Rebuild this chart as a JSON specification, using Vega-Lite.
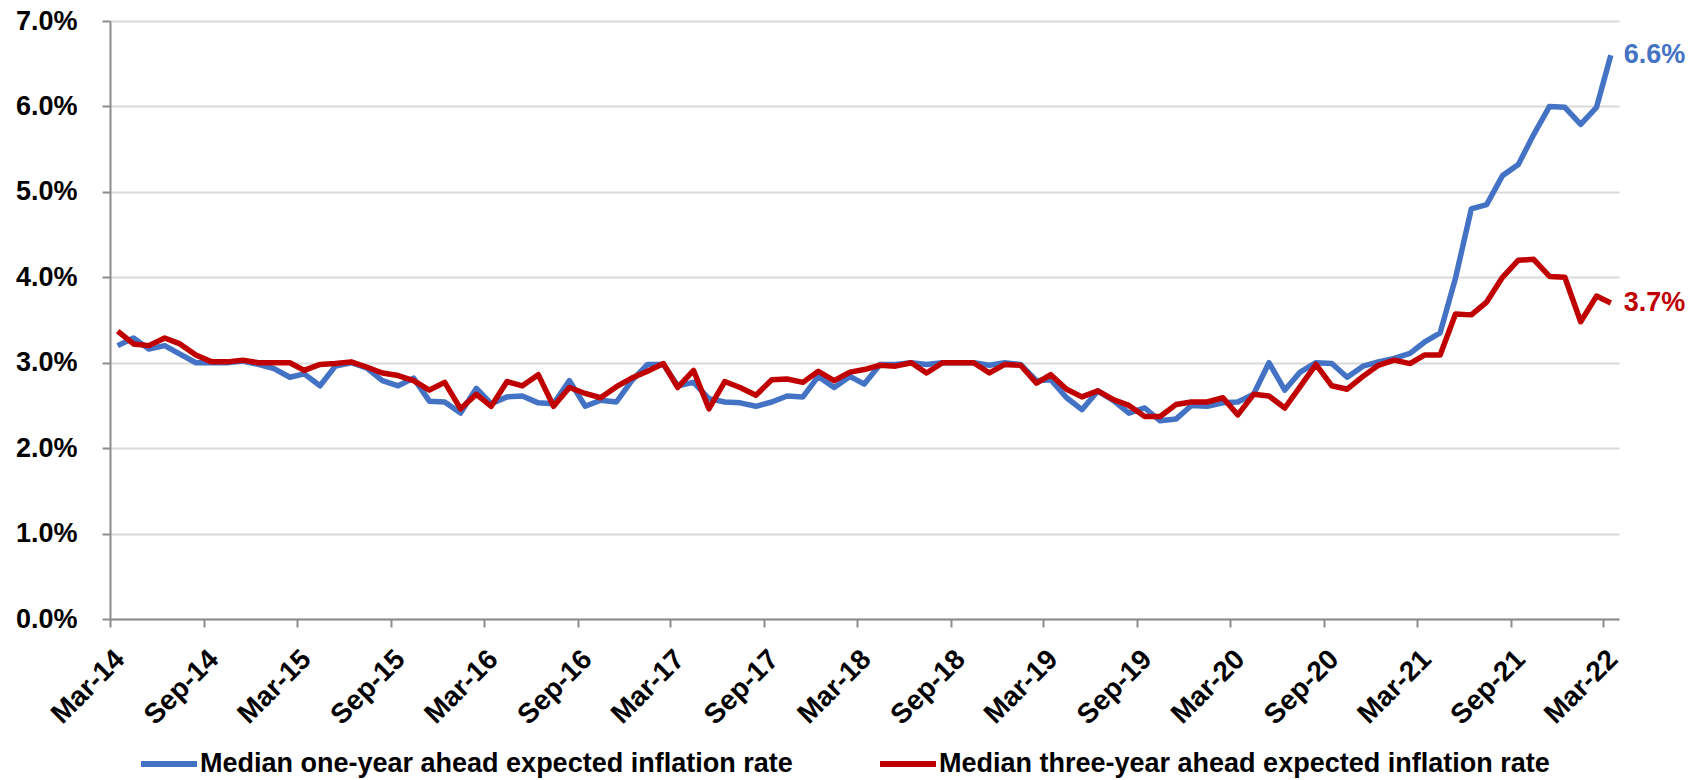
{
  "$schema": "https://vega.github.io/schema/vega-lite/v6.json",
  "width": 1509,
  "height": 598,
  "autosize": {"type": "none"},
  "padding": {"left": 110, "top": 21, "right": 85, "bottom": 161},
  "background": "white",
  "config": {
    "view": {"stroke": null},
    "font": "Liberation Sans"
  },
  "data": {
    "values": [
      {"date": "2014-03-16", "one_year": 0.0320, "three_year": 0.0337},
      {"date": "2014-04-16", "one_year": 0.0329, "three_year": 0.0322},
      {"date": "2014-05-16", "one_year": 0.0316, "three_year": 0.0320},
      {"date": "2014-06-16", "one_year": 0.0320, "three_year": 0.0329},
      {"date": "2014-07-16", "one_year": 0.0310, "three_year": 0.0322},
      {"date": "2014-08-16", "one_year": 0.0300, "three_year": 0.0309},
      {"date": "2014-09-16", "one_year": 0.0300, "three_year": 0.0301},
      {"date": "2014-10-16", "one_year": 0.0300, "three_year": 0.0301},
      {"date": "2014-11-16", "one_year": 0.0302, "three_year": 0.0303},
      {"date": "2014-12-16", "one_year": 0.0298, "three_year": 0.0300},
      {"date": "2015-01-16", "one_year": 0.0293, "three_year": 0.0300},
      {"date": "2015-02-16", "one_year": 0.0283, "three_year": 0.0300},
      {"date": "2015-03-16", "one_year": 0.0287, "three_year": 0.0291},
      {"date": "2015-04-16", "one_year": 0.0273, "three_year": 0.0298},
      {"date": "2015-05-16", "one_year": 0.0296, "three_year": 0.0299},
      {"date": "2015-06-16", "one_year": 0.0300, "three_year": 0.0301},
      {"date": "2015-07-16", "one_year": 0.0294, "three_year": 0.0295},
      {"date": "2015-08-16", "one_year": 0.0279, "three_year": 0.0288},
      {"date": "2015-09-16", "one_year": 0.0273, "three_year": 0.0285},
      {"date": "2015-10-16", "one_year": 0.0282, "three_year": 0.0279},
      {"date": "2015-11-16", "one_year": 0.0255, "three_year": 0.0268},
      {"date": "2015-12-16", "one_year": 0.0254, "three_year": 0.0277},
      {"date": "2016-01-16", "one_year": 0.0241, "three_year": 0.0246},
      {"date": "2016-02-16", "one_year": 0.0270, "three_year": 0.0263},
      {"date": "2016-03-16", "one_year": 0.0252, "three_year": 0.0249},
      {"date": "2016-04-16", "one_year": 0.0260, "three_year": 0.0278},
      {"date": "2016-05-16", "one_year": 0.0261, "three_year": 0.0273},
      {"date": "2016-06-16", "one_year": 0.0253, "three_year": 0.0286},
      {"date": "2016-07-16", "one_year": 0.0252, "three_year": 0.0249},
      {"date": "2016-08-16", "one_year": 0.0279, "three_year": 0.0271},
      {"date": "2016-09-16", "one_year": 0.0249, "three_year": 0.0264},
      {"date": "2016-10-16", "one_year": 0.0256, "three_year": 0.0259},
      {"date": "2016-11-16", "one_year": 0.0254, "three_year": 0.0272},
      {"date": "2016-12-16", "one_year": 0.0279, "three_year": 0.0282},
      {"date": "2017-01-16", "one_year": 0.0298, "three_year": 0.0290},
      {"date": "2017-02-16", "one_year": 0.0298, "three_year": 0.0299},
      {"date": "2017-03-16", "one_year": 0.0273, "three_year": 0.0271},
      {"date": "2017-04-16", "one_year": 0.0277, "three_year": 0.0291},
      {"date": "2017-05-16", "one_year": 0.0258, "three_year": 0.0246},
      {"date": "2017-06-16", "one_year": 0.0254, "three_year": 0.0278},
      {"date": "2017-07-16", "one_year": 0.0253, "three_year": 0.0271},
      {"date": "2017-08-16", "one_year": 0.0249, "three_year": 0.0262},
      {"date": "2017-09-16", "one_year": 0.0254, "three_year": 0.0280},
      {"date": "2017-10-16", "one_year": 0.0261, "three_year": 0.0281},
      {"date": "2017-11-16", "one_year": 0.0260, "three_year": 0.0277},
      {"date": "2017-12-16", "one_year": 0.0284, "three_year": 0.0290},
      {"date": "2018-01-16", "one_year": 0.0271, "three_year": 0.0279},
      {"date": "2018-02-16", "one_year": 0.0284, "three_year": 0.0289},
      {"date": "2018-03-16", "one_year": 0.0275, "three_year": 0.0292},
      {"date": "2018-04-16", "one_year": 0.0298, "three_year": 0.0297},
      {"date": "2018-05-16", "one_year": 0.0298, "three_year": 0.0296},
      {"date": "2018-06-16", "one_year": 0.0300, "three_year": 0.0300},
      {"date": "2018-07-16", "one_year": 0.0298, "three_year": 0.0288},
      {"date": "2018-08-16", "one_year": 0.0300, "three_year": 0.0300},
      {"date": "2018-09-16", "one_year": 0.0300, "three_year": 0.0300},
      {"date": "2018-10-16", "one_year": 0.0300, "three_year": 0.0300},
      {"date": "2018-11-16", "one_year": 0.0297, "three_year": 0.0288},
      {"date": "2018-12-16", "one_year": 0.0300, "three_year": 0.0298},
      {"date": "2019-01-16", "one_year": 0.0298, "three_year": 0.0297},
      {"date": "2019-02-16", "one_year": 0.0279, "three_year": 0.0276},
      {"date": "2019-03-16", "one_year": 0.0280, "three_year": 0.0286},
      {"date": "2019-04-16", "one_year": 0.0259, "three_year": 0.0269},
      {"date": "2019-05-16", "one_year": 0.0245, "three_year": 0.0260},
      {"date": "2019-06-16", "one_year": 0.0267, "three_year": 0.0267},
      {"date": "2019-07-16", "one_year": 0.0256, "three_year": 0.0257},
      {"date": "2019-08-16", "one_year": 0.0241, "three_year": 0.0250},
      {"date": "2019-09-16", "one_year": 0.0247, "three_year": 0.0237},
      {"date": "2019-10-16", "one_year": 0.0232, "three_year": 0.0237},
      {"date": "2019-11-16", "one_year": 0.0234, "three_year": 0.0251},
      {"date": "2019-12-16", "one_year": 0.0250, "three_year": 0.0254},
      {"date": "2020-01-16", "one_year": 0.0249, "three_year": 0.0254},
      {"date": "2020-02-16", "one_year": 0.0253, "three_year": 0.0259},
      {"date": "2020-03-16", "one_year": 0.0254, "three_year": 0.0239},
      {"date": "2020-04-16", "one_year": 0.0263, "three_year": 0.0263},
      {"date": "2020-05-16", "one_year": 0.0300, "three_year": 0.0261},
      {"date": "2020-06-16", "one_year": 0.0268, "three_year": 0.0247},
      {"date": "2020-07-16", "one_year": 0.0289, "three_year": 0.0272},
      {"date": "2020-08-16", "one_year": 0.0300, "three_year": 0.0298},
      {"date": "2020-09-16", "one_year": 0.0299, "three_year": 0.0273},
      {"date": "2020-10-16", "one_year": 0.0283, "three_year": 0.0269},
      {"date": "2020-11-16", "one_year": 0.0296, "three_year": 0.0284},
      {"date": "2020-12-16", "one_year": 0.0301, "three_year": 0.0297},
      {"date": "2021-01-16", "one_year": 0.0305, "three_year": 0.0303},
      {"date": "2021-02-16", "one_year": 0.0311, "three_year": 0.0299},
      {"date": "2021-03-16", "one_year": 0.0324, "three_year": 0.0309},
      {"date": "2021-04-16", "one_year": 0.0335, "three_year": 0.0309},
      {"date": "2021-05-16", "one_year": 0.0399, "three_year": 0.0357},
      {"date": "2021-06-16", "one_year": 0.0480, "three_year": 0.0356},
      {"date": "2021-07-16", "one_year": 0.0485, "three_year": 0.0371},
      {"date": "2021-08-16", "one_year": 0.0519, "three_year": 0.0400},
      {"date": "2021-09-16", "one_year": 0.0532, "three_year": 0.0420},
      {"date": "2021-10-16", "one_year": 0.0567, "three_year": 0.0421},
      {"date": "2021-11-16", "one_year": 0.0600, "three_year": 0.0401},
      {"date": "2021-12-16", "one_year": 0.0599, "three_year": 0.0400},
      {"date": "2022-01-16", "one_year": 0.0579, "three_year": 0.0348},
      {"date": "2022-02-16", "one_year": 0.0599, "three_year": 0.0378},
      {"date": "2022-03-16", "one_year": 0.0660, "three_year": 0.0370}
    ]
  },
  "transform": [
    {"fold": ["one_year", "three_year"], "as": ["series", "rate"]}
  ],
  "encoding": {
    "x": {
      "field": "date",
      "type": "temporal",
      "scale": {
        "type": "utc",
        "domain": [
          {"year": 2014, "month": 3, "date": 1, "utc": true},
          {"year": 2022, "month": 4, "date": 1, "utc": true}
        ]
      },
      "axis": {
        "title": null,
        "grid": false,
        "values": [
          {"year": 2014, "month": 3, "date": 1, "utc": true},
          {"year": 2014, "month": 9, "date": 1, "utc": true},
          {"year": 2015, "month": 3, "date": 1, "utc": true},
          {"year": 2015, "month": 9, "date": 1, "utc": true},
          {"year": 2016, "month": 3, "date": 1, "utc": true},
          {"year": 2016, "month": 9, "date": 1, "utc": true},
          {"year": 2017, "month": 3, "date": 1, "utc": true},
          {"year": 2017, "month": 9, "date": 1, "utc": true},
          {"year": 2018, "month": 3, "date": 1, "utc": true},
          {"year": 2018, "month": 9, "date": 1, "utc": true},
          {"year": 2019, "month": 3, "date": 1, "utc": true},
          {"year": 2019, "month": 9, "date": 1, "utc": true},
          {"year": 2020, "month": 3, "date": 1, "utc": true},
          {"year": 2020, "month": 9, "date": 1, "utc": true},
          {"year": 2021, "month": 3, "date": 1, "utc": true},
          {"year": 2021, "month": 9, "date": 1, "utc": true},
          {"year": 2022, "month": 3, "date": 1, "utc": true}
        ],
        "labelExpr": "utcFormat(datum.value, '%b-%y')",
        "labelAngle": -45,
        "labelAlign": "right",
        "labelBaseline": "top",
        "labelPadding": 18,
        "labelFontSize": 28,
        "labelFontWeight": "bold",
        "labelColor": "#000000",
        "labelOverlap": false,
        "labelFlush": false,
        "tickSize": 8,
        "tickWidth": 2,
        "tickColor": "#8c8c8c",
        "domainColor": "#8c8c8c",
        "domainWidth": 2
      }
    },
    "y": {
      "field": "rate",
      "type": "quantitative",
      "scale": {"domain": [0, 0.07], "nice": false},
      "axis": {
        "title": null,
        "values": [0, 0.01, 0.02, 0.03, 0.04, 0.05, 0.06, 0.07],
        "format": ".1%",
        "labelFontSize": 27,
        "labelFontWeight": "bold",
        "labelColor": "#000000",
        "labelPadding": 25,
        "tickSize": 8,
        "tickWidth": 2,
        "tickColor": "#8c8c8c",
        "domainColor": "#8c8c8c",
        "domainWidth": 2,
        "gridColor": "#d9d9d9",
        "gridWidth": 2
      }
    },
    "color": {
      "field": "series",
      "type": "nominal",
      "scale": {
        "domain": ["one_year", "three_year"],
        "range": ["#4472C4", "#C00000"]
      },
      "legend": {
        "title": null,
        "orient": "none",
        "legendX": 28,
        "legendY": 712,
        "direction": "horizontal",
        "symbolType": "stroke",
        "symbolSize": 3136,
        "symbolStrokeWidth": 6,
        "labelExpr": "datum.value == 'one_year' ? 'Median one-year ahead expected inflation rate' : 'Median three-year ahead expected inflation rate'",
        "labelFontSize": 27,
        "labelFontWeight": "bold",
        "labelColor": "#000000",
        "labelLimit": 900,
        "labelOffset": 0,
        "columnPadding": 75
      }
    }
  },
  "layer": [
    {
      "mark": {"type": "line", "strokeWidth": 5.5, "strokeJoin": "round"}
    },
    {
      "transform": [
        {"filter": "utcyear(datum.date) == 2022 && utcmonth(datum.date) == 2"}
      ],
      "mark": {
        "type": "text",
        "align": "left",
        "baseline": "middle",
        "dx": 13,
        "fontSize": 27,
        "fontWeight": "bold"
      },
      "encoding": {
        "text": {"field": "rate", "type": "quantitative", "format": ".1%"}
      }
    }
  ]
}
